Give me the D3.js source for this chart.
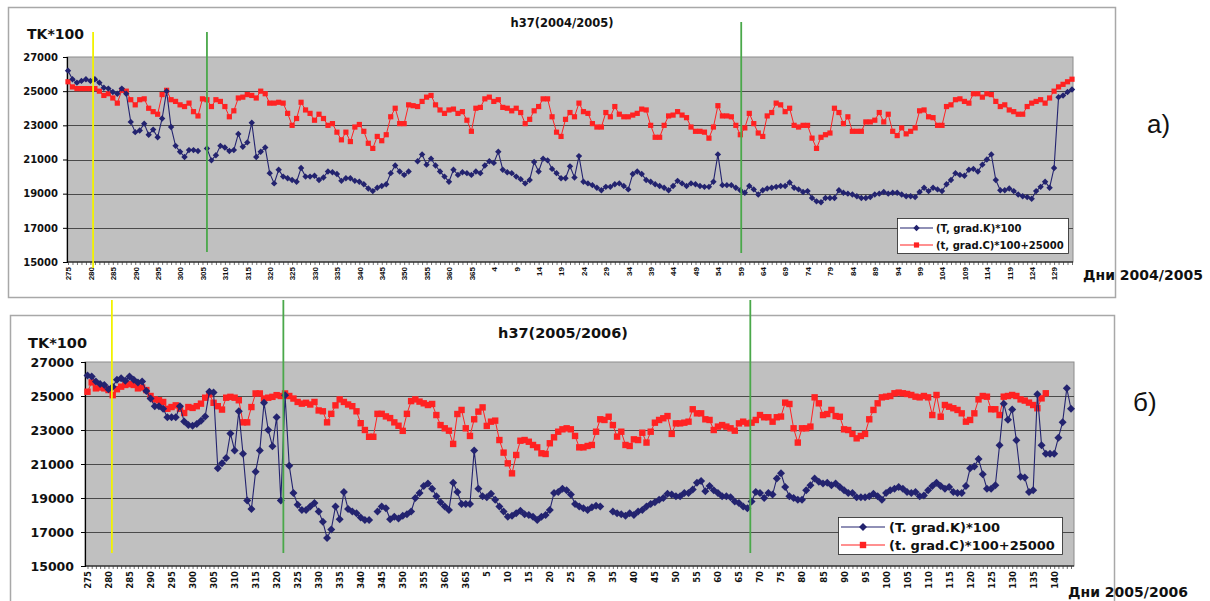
<!DOCTYPE html>
<html>
<head>
<meta charset="utf-8">
<script src="https://cdn.jsdelivr.net/npm/d3@7"></script>
<style>
  body { margin: 0; background: #fff; }
  svg { display: block; }
</style>
</head>
<body>
<div id="chart-container"></div>
<script>
// days on the x axis
var days_a = d3.range(275, 367).concat(d3.range(1, 134));
var days_b = d3.range(275, 366).concat(d3.range(1, 145));
var y_ticks = [15000, 17000, 19000, 21000, 23000, 25000, 27000];
var legend_a = ["(T, grad.K)*100", "(t, grad.C)*100+25000"];
var legend_b = ["(T. grad.K)*100", "(t. grad.C)*100+25000"];

// a) 2004/2005, (T, grad.K)*100
var blue_a = [26200, 25700, 25500, 25600, 25700, 25600, 25700, 25500, 25200, 25150,
  24950, 24850, 25150, 24850, 23200, 22600, 22700, 23100, 22450, 22750,
  22300, 23400, 25000, 22900, 21800, 21450, 21150, 21550, 21550, 21500,
  null, 21650, 20950, 21250, 21800, 21700, 21500, 21550, 22500, 21750,
  22000, 23150, 21150, 21450, 21700, 20200, 19600, 20400, 20000, 19900,
  19800, 19700, 20500, 20000, 20000, 20050, 19800, 19950, 20300, 20250,
  20150, 19750, 19900, 19900, 19750, 19700, 19550, 19300, 19150, 19350,
  19450, 19550, 20200, 20650, 20300, 20100, 20300, null, 20900, 21300,
  20700, 21050, 20650, 20300, 20000, 19700, 20400, 20100, 20250, 20200,
  20100, 20300, 20200, 20650, 20900, 20800, 21450, 20400, 20250, 20200,
  20000, 19850, 19600, 19800, 20850, 20300, 21050, 20950, 20450, 20200,
  19900, 19900, 20600, 19950, 21200, 19700, 19600, 19500, 19350, 19200,
  19400, 19400, 19550, 19600, 19450, 19250, 20150, 20300, 20150, 19800,
  19700, 19550, 19450, 19350, 19200, 19450, 19750, 19600, 19450, 19600,
  19550, 19450, 19400, 19400, 19700, 21300, 19500, 19500, 19500, 19350,
  19200, 19050, 19450, 19250, 18950, 19200, 19300, 19350, 19400, 19450,
  19450, 19650, 19350, 19250, 19100, 19150, 18750, 18550, 18500, 18750,
  18750, 18750, 19200, 19050, 19000, 18950, 18850, 18750, 18750, 18800,
  18950, 19000, 19100, 19000, 19050, 19050, 18950, 18850, 18850, 18800,
  19100, 19350, 19150, 19350, 19250, 19150, 19550, 19800, 20200, 20100,
  20050, 20400, 20450, 20300, 20700, 21000, 21300, 19800, 19200, 19200,
  19300, 19150, 18950, 18850, 18800, 18700, 19150, 19400, 19700, 19350,
  20500, 24650, 24750, 24950, 25100];

// a) 2004/2005, (t, grad.C)*100+25000
var red_a = [25550, 25250, 25150, 25150, 25150, 25150, 25150, 25000, 24750, 24850,
  24600, 24300, 25050, 25000, 24500, 24200, 24500, 24550, 24000, 23800,
  23650, 24800, 25050, 24500, 24400, 24200, 24100, 24300, 23800, 23550,
  24550, 24500, 24100, 24500, 24400, 24100, 23500, 23850, 24600, 24650,
  24800, 24750, 24600, 25000, 24850, 24300, 24300, 24350, 24300, 23700,
  23000, 23400, 24350, 23900, 23700, 23300, 23650, 23400, 23000, 23100,
  22600, 22150, 22600, 22050, 22900, 23050, 22650, 21950, 21650, 22350,
  22100, 22450, 23500, 24000, 23100, 23100, 24200, 24150, 24100, 24400,
  24650, 24750, 24200, 23900, 23700, 23900, 23950, 23700, 23800, 23300,
  22650, 24000, 24050, 24550, 24650, 24400, 24500, 24050, 24000, 23850,
  24000, 23750, 23100, 23350, 23850, 24100, 24550, 24550, 23500, 22600,
  22350, 23350, 23750, 23500, 24300, 23800, 23700, 23100, 22900, 22900,
  23750, 23500, 24100, 23650, 23500, 23500, 23600, 23700, 23950, 23900,
  23000, 22300, 22300, 23000, 23550, 23600, 23800, 23600, 23450, 22900,
  22650, 22650, 22600, 22250, 22900, 24150, 23550, 23550, 23500, 23000,
  22450, 22850, 23700, 23100, 22550, 22350, 23550, 23750, 24300, 24200,
  23800, 24000, 23000, 22900, 23000, 23000, 22250, 21650, 22300, 22450,
  22550, 24000, 23750, 23100, 23500, 22650, 22650, 22650, 23200, 23200,
  23300, 23750, 23200, 23650, 22650, 22400, 22850, 22500, 22650, 22850,
  23850, 23900, 23500, 23450, 23000, 23000, 24100, 24200, 24500, 24550,
  24400, 24300, 24850, 24850, 24650, 24850, 24800, 24400, 24100, 24200,
  23900, 23800, 23650, 23650, 24100, 24300, 24400, 24500, 24300, 24600,
  25000, 25250, 25400, 25550, 25700];

// b) 2005/2006, (T. grad.K)*100
var blue_b = [26200, 26150, 25850, 25700, 25650, 25400, 25550, 25950, 26050, 25900,
  26150, 25950, 25800, 25850, 25300, 24850, 24400, 24400, 24250, 23750,
  23750, 23750, 24400, 23500, 23300, 23250, 23350, 23550, 23800, 25250,
  25200, 20750, 21050, 21350, 22800, 21800, 24100, 21600, 18850, 18350,
  20550, 21800, 24600, 23000, 22050, 23750, 18850, 25050, 20900, 19300,
  18600, 18300, 18300, 18500, 18700, 18200, 17600, 16650, 17150, 18500,
  17750, 19350, 18350, 18200, 18100, 17850, 17700, 17700, null, 18200,
  18500, 18400, 17750, 17900, 17800, 17950, 18050, 18200, 19000, 19300,
  19700, 19850, 19550, 19100, 18750, 18500, 18300, 19900, 19350, 18650,
  18650, 18650, 21800, 19550, 19100, 19050, 19250, 18900, 18500,
  18200, 17900, 17950, 18100, 18250, 18050, 18000, 17900, 17700, 17900,
  18000, 18300, 19300, 19350, 19550, 19450, 19200, 18650, 18500, 18400,
  18300, 18450, 18550, 18500, null, null, 18200, 18100, 18050, 17950,
  18100, 18000, 18200, 18300, 18500, 18650, 18750, 18900, 19000, 19250,
  19200, 19100, 19100, 19300, 19300, 19500, 19900, 20000, 19400, 19700,
  19450, 19300, 19100, 19100, 19050, 18800, 18700, 18500, 18400, 18800,
  19350, 19300, 19000, 19300, 19200, 20150, 20450, 19650, 19100, 19000,
  18900, 18900, 19450, 19750, 20150, 19950, 19850, 19900, 19750, 19850,
  19650, 19450, 19300, 19300, 19050, 19050, 19050, 19100, 19250, 19100,
  18900, 19300, 19450, 19550, 19650, 19550, 19350, 19300, 19350, 19100,
  19150, 19450, 19700, 19900, 19700, 19550, 19650, 19350, 19300, 19300,
  19700, 20750, 20850, 21300, 20400, 19550, 19550, 19750, 22100, 24550,
  23600, 24200, 22400, 20250, 20200, 19350, 19450, 25100, 22100, 21600,
  21600, 21600, 22550, 23450, 25450, 24250];

// b) 2005/2006, (t. grad.C)*100+25000
var red_b = [25250, 25800, 25450, 25500, 25450, 25350, 25050, 25400, 25550, 25650,
  25700, 25650, 25450, 25500, 25350, 25000, 24800, 24750, 24650, 24250,
  24350, 24450, 24250, 24000, 24350, 24300, 24400, 24550, 24900, 25100,
  24600, 24400, 24200, 24900, 24950, 24900, 24750, 23450, 23450, 24350,
  25150, 25150, 24850, 24900, 24950, 25050, 25000, 25150, 25000, 24850,
  24650, 24550, 24600, 24500, 24650, 24150, 24100, 23450, 23950, 24450,
  24800, 24650, 24500, 24400, 24100, 23400, 23000, 22600, 22600, 23950,
  23950, 23800, 23700, 23450, 23250, 22950, 23950, 24700, 24800, 24670,
  24570, 24470, 24530, 23880, 23290, 23100, 22960, 22180, 23940, 24180,
  23100, 22650, 23630, 24080, 24330, 23240, 23490, 23550, 22410, 21670,
  21040, 20450, 21530, 22370, 22410, 22310, 22120, 21980, 21630, 21590,
  22220, 22570, 22900, 23040, 23100, 23040, 22650, 21980, 21980, 22060,
  22120, 22900, 23630, 23590, 23780, 23290, 22610, 22900, 22120, 22060,
  22450, 22410, 22840, 22260, 22900, 23430, 23590, 23690, 23820, 22770,
  23390, 23390, 23430, 23490, 24220, 23980, 23980, 23630, 23590, 23000,
  23200, 23290, 23200, 23100, 22960, 23390, 23490, 23390, 23430, 23590,
  23880, 23750, 23750, 23490, 23750, 23790, 24610, 24530, 23100, 22260,
  23100, 23100, 23200, 24920, 24570, 23880, 23940, 24180, 23820, 23780,
  23040, 23000, 22770, 22510, 22650, 22770, 23630, 24180, 24570, 24920,
  24960, 25000, 25160, 25200, 25160, 25120, 25060, 24960, 24920, 25000,
  24920, 23880, 25060, 23780, 24470, 24370, 24280, 24180, 23980, 23490,
  23590, 23980, 24800, 25000, 24960, 24220, 24220, 23880, 24960, 25000,
  25060, 25000, 24800, 24730, 24610, 24470, 24280, 24860, 25160,
  null, null, null, null, null, null];

// vertical marker lines, position in category index units
var marks_a = [{at: 5.6, color: "#f2f200", top: 32, bottom: 268},
  {at: 31.0, color: "#4aa84a", top: 32, bottom: 252},
  {at: 150.2, color: "#4aa84a", top: 22, bottom: 253}];
var marks_b = [{at: 5.8, color: "#f2f200", top: 300, bottom: 553},
  {at: 46.6, color: "#4aa84a", top: 300, bottom: 553},
  {at: 157.7, color: "#4aa84a", top: 300, bottom: 553}];

var blue_color = "#23236f";
var red_color = "#ff2222";
var bold_font = "'DejaVu Sans', sans-serif";

var svg = d3.select("#chart-container")
  .append("svg")
  .attr("width", 1210)
  .attr("height", 601);

draw_chart({
  frame: [8, 7, 1107, 290],
  plot: [67, 57, 1073, 262],
  pts: [68, 1072],
  days: days_a, blue: blue_a, red: red_a, marks: marks_a,
  title: {text: "h37(2004/2005)", x: 562, y: 27, size: 11.5},
  unit: {x: 27, y: 38.5, size: 14},
  ytick_size: 10, ytick_gap: 9,
  xtick: {font: "'Liberation Sans', Arial, sans-serif", size: 8},
  xlabel: {text: "Дни 2004/2005", x: 1083, y: 280, size: 14},
  tag: {text: "а)", x: 1147, y: 133, size: 26},
  legend: {x: 897, y: 218, w: 171, h: 35, size: 10, rows: [228, 245], line: [900, 933], tx: 936, labels: legend_a},
  diamond: 3.2, square: 2.6
});

draw_chart({
  frame: [10, 315, 1104, 292],
  plot: [85, 362, 1074, 566],
  pts: [87.5, 1071],
  days: days_b, blue: blue_b, red: red_b, marks: marks_b,
  title: {text: "h37(2005/2006)", x: 563, y: 338, size: 14.5},
  unit: {x: 28, y: 348, size: 14.5},
  ytick_size: 12.5, ytick_gap: 11,
  xtick: {font: bold_font, size: 8.5},
  xlabel: {text: "Дни 2005/2006", x: 1068, y: 597, size: 14},
  tag: {text: "б)", x: 1133, y: 411, size: 26},
  legend: {x: 838, y: 517, w: 224, h: 37, size: 13, rows: [527, 545], line: [841, 885], tx: 889, labels: legend_b},
  diamond: 4, square: 3.2
});

function diamond_path(r) {
  return "M0," + (-r) + "L" + r + ",0L0," + r + "L" + (-r) + ",0Z";
}

function draw_chart(c) {
  var n = c.days.length;
  var x0 = c.plot[0], y0 = c.plot[1], x1 = c.plot[2], y1 = c.plot[3];

  var g = svg.append("g");

  // outer frame
  g.append("rect")
    .attr("x", c.frame[0] + 0.5)
    .attr("y", c.frame[1] + 0.5)
    .attr("width", c.frame[2])
    .attr("height", c.frame[3])
    .attr("fill", "#fff")
    .attr("stroke", "#a8a8a8")
    .attr("stroke-width", 1.5);

  var x = d3.scalePoint()
    .domain(d3.range(n))
    .range(c.pts);

  var xi = d3.scaleLinear()
    .domain([0, n - 1])
    .range(c.pts);

  var y = d3.scaleLinear()
    .domain([15000, 27000])
    .range([y1, y0]);

  // plot area
  g.append("rect")
    .attr("x", x0)
    .attr("y", y0)
    .attr("width", x1 - x0)
    .attr("height", y1 - y0)
    .attr("fill", "#c0c0c0")
    .attr("stroke", "#8c8c8c")
    .attr("stroke-width", 1);

  // gridlines
  g.selectAll(".grid")
    .data(y_ticks.slice(1, -1))
    .enter()
    .append("line")
    .attr("class", "grid")
    .attr("x1", x0)
    .attr("x2", x1)
    .attr("y1", function(d) { return Math.round(y(d)) + 0.5; })
    .attr("y2", function(d) { return Math.round(y(d)) + 0.5; })
    .attr("stroke", "#4a4a4a")
    .attr("stroke-width", 1.2);

  // y axis
  var ya = g.append("g")
    .attr("transform", "translate(" + x0 + ",0)")
    .call(d3.axisLeft(y).tickValues(y_ticks).tickSize(4).tickPadding(c.ytick_gap - 4).tickFormat(d3.format("d")));
  ya.select(".domain").attr("stroke", "#000").attr("stroke-width", 1.2);
  ya.selectAll(".tick line").attr("stroke", "#000");
  ya.selectAll("text")
    .attr("font-family", bold_font)
    .attr("font-weight", "bold")
    .attr("font-size", c.ytick_size)
    .attr("fill", "#111");

  // x axis
  var xa = g.append("g")
    .attr("transform", "translate(0," + y1 + ")")
    .call(d3.axisBottom(x).tickSize(3).tickFormat(function(d) { return d % 5 === 0 ? c.days[d] : ""; }));
  xa.select(".domain").attr("stroke", "#000").attr("stroke-width", 1.2).attr("d", "M" + x0 + ",0H" + x1);
  xa.selectAll(".tick line").attr("stroke", "#333").attr("stroke-width", 0.7);
  xa.selectAll("text")
    .attr("transform", "rotate(-90)")
    .attr("text-anchor", "end")
    .attr("x", -5)
    .attr("y", 0)
    .attr("dy", "0.35em")
    .attr("font-family", c.xtick.font)
    .attr("font-weight", "bold")
    .attr("font-size", c.xtick.size)
    .attr("fill", "#111");

  var line = d3.line()
    .defined(function(d) { return d != null; })
    .x(function(d, i) { return x(i); })
    .y(function(d) { return y(d); });

  // red series
  g.append("path")
    .datum(c.red)
    .attr("d", line)
    .attr("fill", "none")
    .attr("stroke", red_color)
    .attr("stroke-width", 1);
  g.selectAll(".red-pt")
    .data(c.red.map(function(d, i) { return {v: d, i: i}; }).filter(function(d) { return d.v != null; }))
    .enter()
    .append("rect")
    .attr("class", "red-pt")
    .attr("x", function(d) { return x(d.i) - c.square; })
    .attr("y", function(d) { return y(d.v) - c.square; })
    .attr("width", c.square * 2)
    .attr("height", c.square * 2)
    .attr("fill", red_color);

  // blue series
  g.append("path")
    .datum(c.blue)
    .attr("d", line)
    .attr("fill", "none")
    .attr("stroke", blue_color)
    .attr("stroke-width", 1.1);
  g.selectAll(".blue-pt")
    .data(c.blue.map(function(d, i) { return {v: d, i: i}; }).filter(function(d) { return d.v != null; }))
    .enter()
    .append("path")
    .attr("class", "blue-pt")
    .attr("d", diamond_path(c.diamond))
    .attr("transform", function(d) { return "translate(" + x(d.i) + "," + y(d.v) + ")"; })
    .attr("fill", blue_color);

  // legend
  var lg = c.legend;
  g.append("rect")
    .attr("x", lg.x + 0.5)
    .attr("y", lg.y + 0.5)
    .attr("width", lg.w)
    .attr("height", lg.h)
    .attr("fill", "#fff")
    .attr("stroke", "#222")
    .attr("stroke-width", 0.8);
  var lcolors = [blue_color, red_color];
  lg.labels.forEach(function(t, k) {
    var ly = lg.rows[k];
    g.append("line")
      .attr("x1", lg.line[0]).attr("x2", lg.line[1])
      .attr("y1", ly).attr("y2", ly)
      .attr("stroke", lcolors[k])
      .attr("stroke-width", 1.1);
    var mx = (lg.line[0] + lg.line[1]) / 2;
    if (k === 0) {
      g.append("path")
        .attr("d", diamond_path(c.diamond))
        .attr("transform", "translate(" + mx + "," + ly + ")")
        .attr("fill", blue_color);
    } else {
      g.append("rect")
        .attr("x", mx - c.square).attr("y", ly - c.square)
        .attr("width", c.square * 2).attr("height", c.square * 2)
        .attr("fill", red_color);
    }
    g.append("text")
      .attr("x", lg.tx)
      .attr("y", ly)
      .attr("dy", "0.35em")
      .attr("font-family", bold_font)
      .attr("font-weight", "bold")
      .attr("font-size", lg.size)
      .attr("fill", "#111")
      .text(t);
  });

  // vertical marker lines
  g.selectAll(".mark")
    .data(c.marks)
    .enter()
    .append("line")
    .attr("class", "mark")
    .attr("x1", function(d) { return xi(d.at); })
    .attr("x2", function(d) { return xi(d.at); })
    .attr("y1", function(d) { return d.top; })
    .attr("y2", function(d) { return d.bottom; })
    .attr("stroke", function(d) { return d.color; })
    .attr("stroke-width", 1.8);

  // texts
  g.append("text")
    .attr("x", c.title.x)
    .attr("y", c.title.y)
    .attr("text-anchor", "middle")
    .attr("font-family", bold_font)
    .attr("font-weight", "bold")
    .attr("font-size", c.title.size)
    .attr("fill", "#111")
    .text(c.title.text);

  g.append("text")
    .attr("x", c.unit.x)
    .attr("y", c.unit.y)
    .attr("font-family", bold_font)
    .attr("font-weight", "bold")
    .attr("font-size", c.unit.size)
    .attr("fill", "#111")
    .text("TK*100");

  svg.append("text")
    .attr("x", c.xlabel.x)
    .attr("y", c.xlabel.y)
    .attr("font-family", bold_font)
    .attr("font-weight", "bold")
    .attr("font-size", c.xlabel.size)
    .attr("fill", "#111")
    .text(c.xlabel.text);

  svg.append("text")
    .attr("x", c.tag.x)
    .attr("y", c.tag.y)
    .attr("font-family", "'Liberation Sans', Arial, sans-serif")
    .attr("font-size", c.tag.size)
    .attr("fill", "#111")
    .text(c.tag.text);
}
</script>
</body>
</html>
